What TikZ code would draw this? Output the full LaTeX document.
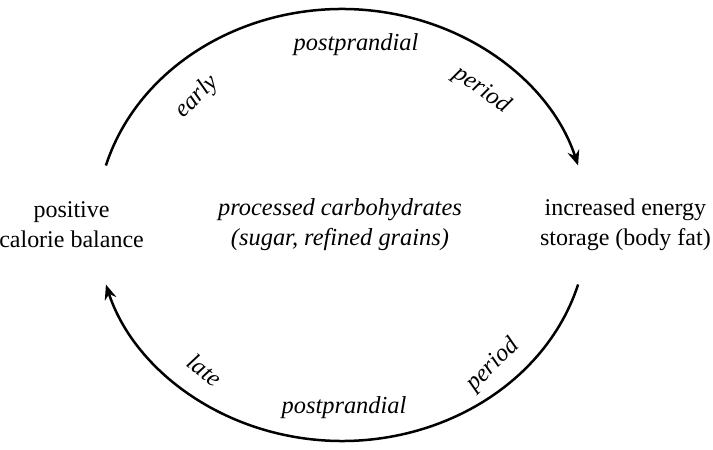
\documentclass[tikz,border=0pt]{standalone}
\usepackage{fontspec}
\setmainfont{Liberation Serif}
\usetikzlibrary{arrows.meta}

\begin{document}
\begin{tikzpicture}[x=1pt,y=1pt,>={Stealth[length=15pt,width=12pt,inset=5pt]}]
		\tikzset{
			every node/.style={font=\fontsize{24}{30}\selectfont,align=center},
			phase/.style={font=\fontsize{24.4}{30}\selectfont\itshape},
			cycle/.style={->,line width=2.5pt}
		}
		\useasboundingbox (0,0) rectangle (713,450);
		\node(carbs) at (340,225)[phase]{processed carbohydrates\\(sugar, refined grains)};
		\node(calorie)[left of=carbs,xshift=-240pt]{positive\\calorie balance};
		\node(storage)[right of=carbs,xshift=257pt]{increased energy\\storage (body fat)};
		% ends of the two arcs
		\coordinate(topL) at (105.9,284.5);
		\coordinate(botR) at (578.1,165.5);
		\draw[cycle] (topL) arc[start angle=164,end angle=16,x radius=245.6pt,y radius=216pt];
		\draw[cycle] (botR) arc[start angle=-16,end angle=-164,x radius=245.6pt,y radius=216pt];
		% labels along the arcs
		\node(early)[phase,rotate=45] at (197,353){early};
		\node(pptop)[phase] at (356,405){postprandial};
		\node(pertop)[phase,rotate=-35] at (482,360){period};
		\node(late)[phase,rotate=-37] at (205,80){late};
		\node(ppbot)[phase] at (344,42){postprandial};
		\node(perbot)[phase,rotate=45] at (493,85){period};
\end{tikzpicture}
\end{document}
